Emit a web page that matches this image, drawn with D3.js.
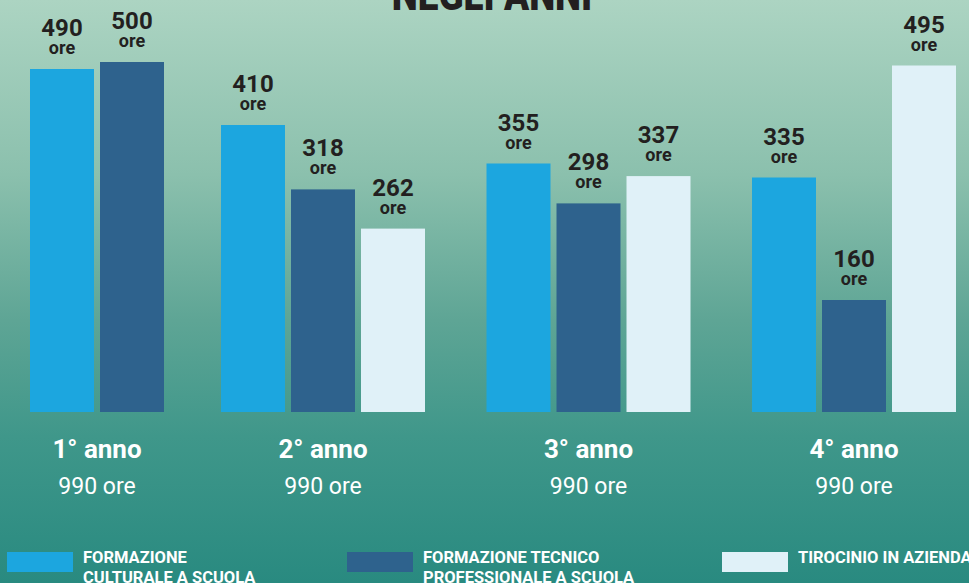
<!DOCTYPE html>
<html><head><meta charset="utf-8">
<script src="https://cdn.jsdelivr.net/npm/d3@7/dist/d3.min.js"></script>
<style>html,body{margin:0;padding:0;overflow:hidden;}svg{display:block;}</style>
</head><body>
<script>
const years = ["1° anno", "2° anno", "3° anno", "4° anno"];
const yearTotals = ["990 ore", "990 ore", "990 ore", "990 ore"];
const seriesNames = ["FORMAZIONE\nCULTURALE A SCUOLA", "FORMAZIONE TECNICO\nPROFESSIONALE A SCUOLA", "TIROCINIO IN AZIENDA"];
const seriesColors = ["#1ca6df", "#2e628d", "#e0f1f8"];
const culturale = [490, 410, 355, 335];
const tecnico = [500, 318, 298, 160];
const tirocinio = [null, 262, 337, 495];
const title = "NEGLI ANNI";

const W = 969, H = 583;
const svg = d3.select("body").append("svg").attr("width", W).attr("height", H);
const defs = svg.append("defs");
const grad = defs.append("linearGradient").attr("id", "bg").attr("x1", 0).attr("y1", 0).attr("x2", 0).attr("y2", 1);
[[0, "#acd4c2"], [0.3, "#8bc0ad"], [0.55, "#5ea595"], [0.75, "#3f978a"], [1, "#298a80"]]
  .forEach(([o, c]) => grad.append("stop").attr("offset", o).attr("stop-color", c));
svg.append("rect").attr("width", W).attr("height", H).attr("fill", "url(#bg)");

// title (cut off at top)
svg.append("text").attr("transform", "translate(492,10) scale(0.84,1)")
  .attr("text-anchor", "middle").attr("font-family", "Roboto").attr("font-weight", 900)
  .attr("font-size", 44).attr("fill", "#231f20").text(title);

const series = [culturale, tecnico, tirocinio];
const data = years.map((y, gi) => ({
  year: y, total: yearTotals[gi], gi,
  bars: series.map((s, si) => ({ si, v: s[gi] })).filter(d => d.v != null)
}));

const baseline = 412;
const y = d3.scaleLinear().domain([0, 500]).range([baseline, 62]);
const xc = d3.scaleLinear().domain([0, 1, 3]).range([97, 323, 854]);

const g = svg.append("g");
data.forEach(grp => {
  const n = grp.bars.length;
  const half = n * 70 / 2 - 3;
  const xb = d3.scaleBand().domain(grp.bars.map(b => b.si)).range([-half, half]).paddingInner(6 / 70).paddingOuter(0);
  const gg = g.append("g").attr("transform", `translate(${xc(grp.gi)},0)`);
  const bars = gg.selectAll("g.bar").data(grp.bars).join("g").attr("class", "bar");
  bars.append("rect")
    .attr("x", d => xb(d.si)).attr("width", xb.bandwidth())
    .attr("y", d => y(d.v)).attr("height", d => baseline - y(d.v))
    .attr("fill", d => seriesColors[d.si]);
  bars.append("text")
    .attr("x", d => xb(d.si) + xb.bandwidth() / 2).attr("y", d => y(d.v) - 33)
    .attr("text-anchor", "middle").attr("font-family", "Roboto").attr("font-weight", 700)
    .attr("font-size", 24).attr("fill", "#231f20").text(d => d.v);
  bars.append("text")
    .attr("x", d => xb(d.si) + xb.bandwidth() / 2).attr("y", d => y(d.v) - 15)
    .attr("text-anchor", "middle").attr("font-family", "Roboto").attr("font-weight", 700)
    .attr("font-size", 18).attr("fill", "#231f20").text("ore");
  gg.append("text").attr("x", 0).attr("y", 458).attr("text-anchor", "middle")
    .attr("font-family", "Roboto").attr("font-weight", 700).attr("font-size", 26)
    .attr("fill", "#ffffff").text(grp.year);
  gg.append("text").attr("x", 0).attr("y", 494).attr("text-anchor", "middle")
    .attr("font-family", "Roboto").attr("font-weight", 400).attr("font-size", 23)
    .attr("fill", "#ffffff").text(grp.total);
});

// legend
const legX = d3.scalePoint().domain(d3.range(seriesNames.length)).range([7, 722]);
const leg = svg.append("g").selectAll("g").data(seriesNames).join("g")
  .attr("transform", (d, i) => `translate(${i === 1 ? 347 : legX(i)},552)`);
leg.append("rect").attr("width", 66).attr("height", 20).attr("fill", (d, i) => seriesColors[i]);
leg.each(function(d) {
  const t = d3.select(this).append("text").attr("font-family", "Roboto").attr("font-weight", 700)
    .attr("font-size", 16.5).attr("fill", "#ffffff")
    .attr("transform", "translate(76,11)");
  d.split("\n").forEach((line, li) => t.append("tspan").attr("x", 0).attr("y", li * 20).text(line));
});
</script>
</body></html>
